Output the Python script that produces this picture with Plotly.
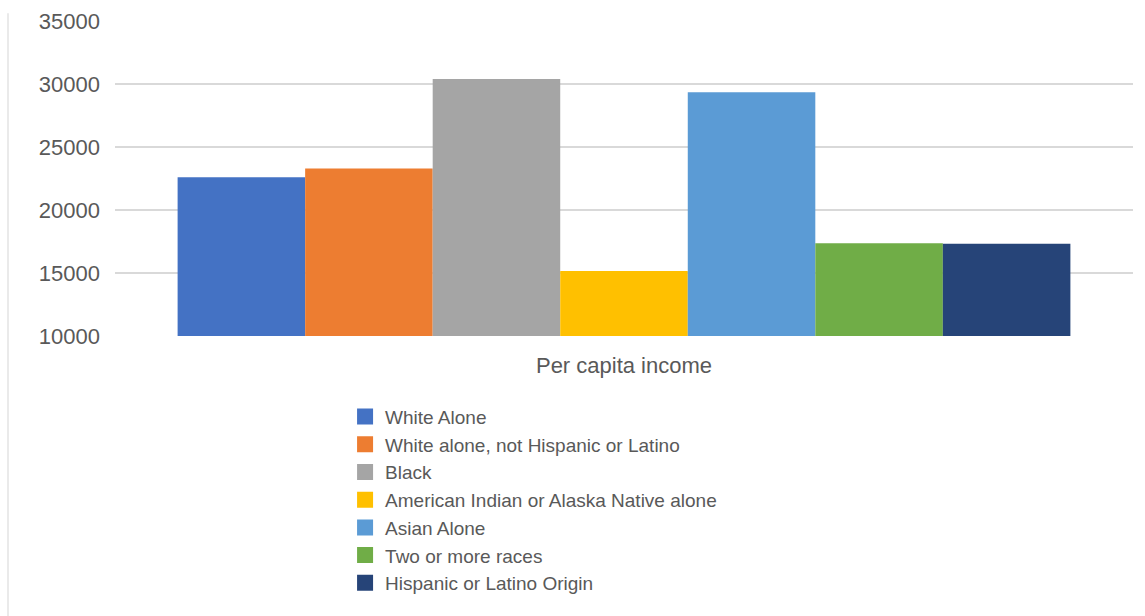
import plotly.graph_objects as go

category = ["Per capita income"]
series_names = [
    "White Alone",
    "White alone, not Hispanic or Latino",
    "Black",
    "American Indian or Alaska Native alone",
    "Asian Alone",
    "Two or more races",
    "Hispanic or Latino Origin",
]
series_values = [22600, 23300, 30400, 15150, 29350, 17370, 17320]
series_colors = ["#4472C4", "#ED7D31", "#A5A5A5", "#FFC000", "#5B9BD5", "#70AD47", "#264478"]
y_ticks = [10000, 15000, 20000, 25000, 30000, 35000]

TEXT = "#595959"
FONT = "Liberation Sans, Arial, sans-serif"

fig = go.Figure()
for name, val, col in zip(series_names, series_values, series_colors):
    fig.add_trace(go.Bar(x=category, y=[val], name=name, legendgroup=name, showlegend=False,
                         marker=dict(color=col, line=dict(width=0))))
# legend entries with larger square swatches (same names/colours as the bars)
for name, col in zip(series_names, series_colors):
    fig.add_trace(go.Scatter(x=[None], y=[None], mode="markers", name=name, legendgroup=name,
                             marker=dict(symbol="square", size=16, color=col), hoverinfo="skip"))

fig.update_layout(
    width=1145, height=616,
    margin=dict(l=115, r=12, t=21, b=280),
    paper_bgcolor="white", plot_bgcolor="white",
    barmode="group", bargap=0.123, bargroupgap=0,
    font=dict(family=FONT, color=TEXT, size=22),
    showlegend=True,
    legend=dict(
        x=0.226, xanchor="left", y=-0.196, yanchor="top",
        font=dict(family=FONT, size=19, color=TEXT),
        bgcolor="rgba(0,0,0,0)", traceorder="normal", tracegroupgap=0,
        itemsizing="trace",
    ),
    xaxis=dict(
        showgrid=False, zeroline=False, showline=False, automargin=False,
        tickfont=dict(size=22, color=TEXT), ticklabelstandoff=14,
    ),
    yaxis=dict(
        range=[10000, 35000], tickvals=y_ticks, tickformat="d", showgrid=True,
        gridcolor="#D9D9D9", gridwidth=1.5, zeroline=False, showline=False, automargin=False,
        tickfont=dict(size=22, color=TEXT), ticklabelstandoff=14,
    ),
    shapes=[dict(type="line", xref="paper", yref="paper",
                 x0=-0.1051, x1=-0.1051, y0=1.025, y1=-0.9,
                 line=dict(color="#E3E3E3", width=1.5))],
)

fig.write_html("out.html")
